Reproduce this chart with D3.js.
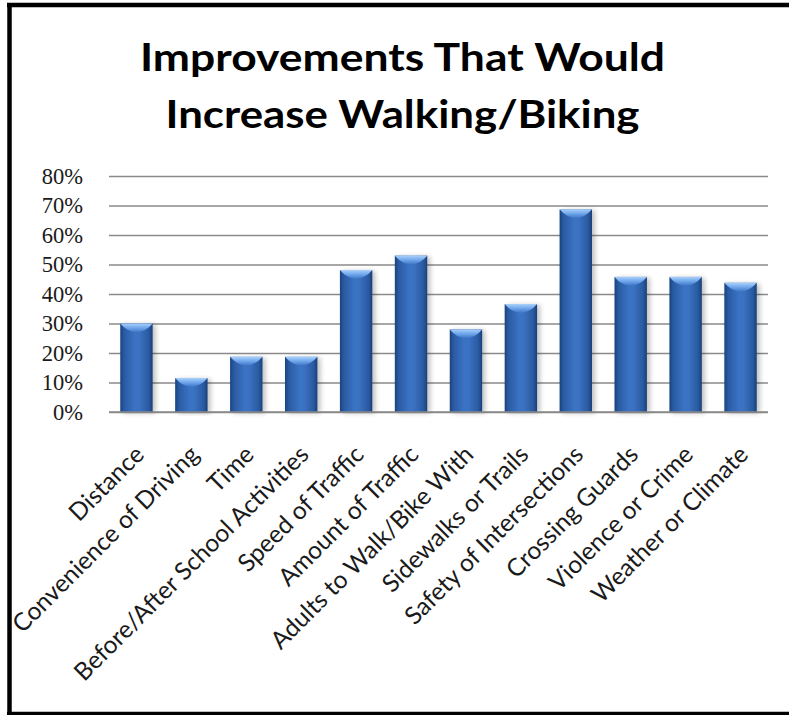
<!DOCTYPE html>
<html>
<head>
<meta charset="utf-8">
<script src="https://cdn.jsdelivr.net/npm/d3@7"></script>
<style>
  html, body { margin: 0; padding: 0; background: #fff; }
  svg { display: block; }
</style>
</head>
<body>
<svg id="chart" width="789" height="715"></svg>
<script>
// ---- data ----
const titleLines = ["Improvements That Would", "Increase Walking/Biking"];
const categories = [
  "Distance", "Convenience of Driving", "Time", "Before/After School Activities",
  "Speed of Traffic", "Amount of Traffic", "Adults to Walk/Bike With",
  "Sidewalks or Trails", "Safety of Intersections", "Crossing Guards",
  "Violence or Crime", "Weather or Climate"
];
const values = [30, 11.5, 18.7, 18.7, 48.1, 53, 28, 36.6, 68.7, 45.8, 45.8, 43.8];
const yTicks = [0, 10, 20, 30, 40, 50, 60, 70, 80];

// ---- layout ----
const svg = d3.select("#chart");
const W = 789, H = 715;
const plot = { left: 109, right: 768, top: 176, bottom: 412 };

svg.append("rect").attr("width", W).attr("height", H).attr("fill", "#fff");

// frame
const frame = svg.append("g").attr("stroke", "#000").attr("fill", "none");
frame.append("line").attr("x1", 7).attr("x2", W).attr("y1", 5).attr("y2", 5).attr("stroke-width", 4.5);
frame.append("line").attr("x1", 9.5).attr("x2", 9.5).attr("y1", 3).attr("y2", H).attr("stroke-width", 4.5);
frame.append("line").attr("x1", 7).attr("x2", W).attr("y1", 713.5).attr("y2", 713.5).attr("stroke-width", 3.5);

// title
const titleTargets = [525, 474];
const titleBase = [70.7, 128.3];
titleLines.forEach((t, i) => {
  svg.append("text")
    .attr("x", 402.5).attr("y", titleBase[i])
    .attr("text-anchor", "middle")
    .attr("font-family", "Lato, 'Open Sans', sans-serif")
    .attr("font-weight", "bold")
    .attr("font-size", 39)
    .attr("fill", "#000")
    .attr("textLength", titleTargets[i])
    .attr("lengthAdjust", "spacingAndGlyphs")
    .text(t);
});

// scales
const x = d3.scaleBand().domain(categories).range([plot.left, plot.right]).paddingInner(0.41).paddingOuter(0.205);
const y = d3.scaleLinear().domain([0, 80]).range([plot.bottom, plot.top]);

// gridlines
const yAxis = d3.axisLeft(y).tickValues(yTicks).tickSize(-(plot.right - plot.left)).tickFormat(d => d + "%").tickPadding(26);
const gy = svg.append("g").attr("transform", `translate(${plot.left},0)`).call(yAxis);
gy.select(".domain").remove();
gy.selectAll(".tick line").attr("stroke", "#8a8a8a").attr("stroke-width", 1.6);
gy.selectAll(".tick text")
  .attr("font-family", "'Liberation Serif', 'DejaVu Serif', serif")
  .attr("font-size", 22.5)
  .attr("fill", "#1a1a1a");

// defs: gradients
const defs = svg.append("defs");
const g1 = defs.append("linearGradient").attr("id", "barGrad").attr("x1", "0").attr("x2", "1").attr("y1", "0").attr("y2", "0");
[[0, "#1b427c"], [0.12, "#2a5ba3"], [0.45, "#3b73c4"], [0.6, "#3a71c1"], [0.88, "#2a5aa1"], [1, "#1a3f77"]]
  .forEach(([o, c]) => g1.append("stop").attr("offset", o).attr("stop-color", c));
const g2 = defs.append("linearGradient").attr("id", "capGrad").attr("x1", "0").attr("x2", "0").attr("y1", "0").attr("y2", "1");
[[0, "#a9d0fb"], [0.5, "#6da4ea"], [1, "#3b73c4"]]
  .forEach(([o, c]) => g2.append("stop").attr("offset", o).attr("stop-color", c));
const sh = defs.append("filter").attr("id", "shadow").attr("x", "-30%").attr("y", "-10%").attr("width", "160%").attr("height", "120%");
sh.append("feGaussianBlur").attr("in", "SourceAlpha").attr("stdDeviation", 2.5);
sh.append("feOffset").attr("dx", 3).attr("dy", 1).attr("result", "b");
sh.append("feComponentTransfer").append("feFuncA").attr("type", "linear").attr("slope", 0.25);
const mg = sh.append("feMerge");
mg.append("feMergeNode");
mg.append("feMergeNode").attr("in", "SourceGraphic");

// bars
const bars = svg.append("g").selectAll("g.bar").data(categories).join("g").attr("class", "bar");
bars.append("rect")
  .attr("x", d => x(d))
  .attr("y", (d, i) => y(values[i]))
  .attr("width", x.bandwidth())
  .attr("height", (d, i) => y(0) - y(values[i]))
  .attr("fill", "url(#barGrad)")
  .attr("filter", "url(#shadow)");
bars.append("path")
  .attr("d", (d, i) => {
    const x0 = x(d), w = x.bandwidth(), t = y(values[i]);
    return `M${x0},${t} L${x0 + w},${t} Q${x0 + w * 0.8},${t + 8} ${x0 + w / 2},${t + 9} Q${x0 + w * 0.2},${t + 8} ${x0},${t} Z`;
  })
  .attr("fill", "url(#capGrad)");

// baseline
svg.append("line").attr("x1", plot.left).attr("x2", plot.right).attr("y1", y(0)).attr("y2", y(0))
  .attr("stroke", "#8a8a8a").attr("stroke-width", 1.6);

// category labels
svg.append("g").selectAll("text").data(categories).join("text")
  .attr("transform", d => `translate(${x(d) + x.bandwidth() / 2 + 3},${plot.bottom + 38}) rotate(-45)`)
  .attr("text-anchor", "end")
  .attr("dy", "0.35em")
  .attr("font-family", "Lato, 'Open Sans', sans-serif")
  .attr("font-size", 24.5)
  .attr("fill", "#1a1a1a")
  .text(d => d);
</script>
</body>
</html>
